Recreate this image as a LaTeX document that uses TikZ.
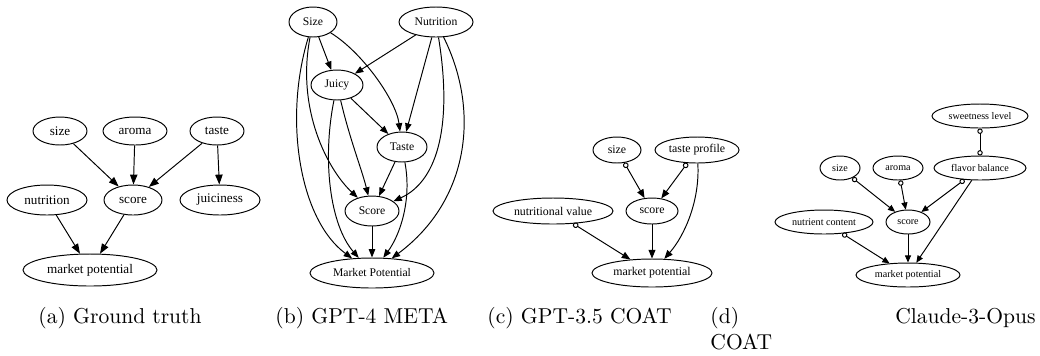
\documentclass[tikz,border=0pt]{standalone}
\usepackage{fontspec}
\newfontfamily\gvfont{Liberation Serif}
\usetikzlibrary{shapes.geometric}
\usetikzlibrary{arrows.meta}

\begin{document}
\begin{tikzpicture}[x=0.464pt,y=-0.464pt,
    gv/.style={ellipse, draw, inner sep=0pt, line width=0.45pt},
    sz/.style 2 args={minimum width=#1*0.928pt, minimum height=#2*0.928pt},
    fa/.style={font=\gvfont\fontsize{6.1}{7}\selectfont},
    fb/.style={font=\gvfont\fontsize{5.4}{6}\selectfont},
    fc/.style={font=\gvfont\fontsize{5.5}{6}\selectfont},
    fd/.style={font=\gvfont\fontsize{4.7}{5}\selectfont},
    ea/.style={line width=0.45pt, -{Triangle[length=4.6pt,width=3.4pt]}},
    eb/.style={line width=0.45pt, -{Triangle[length=3.9pt,width=3pt]}},
    ec/.style={line width=0.45pt, -{Triangle[length=4pt,width=3.2pt]}},
    oc/.style={line width=0.45pt, {Circle[open,length=2.6pt]}-{Triangle[length=4pt,width=3.2pt]}},
    ed/.style={line width=0.45pt, -{Triangle[length=3.3pt,width=2.8pt]}},
    od/.style={line width=0.45pt, {Circle[open,length=2.5pt]}-{Triangle[length=3.3pt,width=2.8pt]}},
    oo/.style={line width=0.45pt, {Circle[open,length=2.5pt]}-{Circle[open,length=2.5pt]}},
    subcap/.style={anchor=base west, inner sep=0pt}]
    \useasboundingbox (0,0) rectangle (1040,355);

    % (a) ground truth
    \node[gv,fa,sz={27}{14}] (aSize) at (60,131) {size};
    \node[gv,fa,sz={32}{14}] (aAroma) at (135,131) {aroma};
    \node[gv,fa,sz={27}{14}] (aTaste) at (217,131) {taste};
    \node[gv,fa,sz={40}{15}] (aNutr) at (47,200) {nutrition};
    \node[gv,fa,sz={29}{15}] (aScore) at (133,200) {score};
    \node[gv,fa,sz={40}{15}] (aJuice) at (220,200) {juiciness};
    \node[gv,fa,sz={67}{16}] (aMarket) at (90,270) {market potential};
    \foreach \s in {aSize,aAroma,aTaste}
        \draw[ea] (\s) -- (aScore);
    \draw[ea] (aTaste) -- (aJuice);
    \draw[ea] (aNutr) -- (aMarket);
    \draw[ea] (aScore) -- (aMarket);

    % (b) GPT-4 META
    \node[gv,fb,sz={24}{15}] (bSize) at (313,22) {Size};
    \node[gv,fb,sz={37}{15}] (bNutr) at (436,22) {Nutrition};
    \node[gv,fb,sz={26}{15}] (bJuicy) at (337,85) {Juicy};
    \node[gv,fb,sz={25}{15}] (bTaste) at (402,147) {Taste};
    \node[gv,fb,sz={27}{15}] (bScore) at (372,211) {Score};
    \node[gv,fb,sz={62}{15}] (bMarket) at (372,273) {Market Potential};
    \draw[eb] (bSize) -- (bJuicy);
    \draw[eb] (bNutr) -- (bJuicy);
    \draw[eb] (bSize) .. controls (362,52) and (396,100) .. (bTaste);
    \draw[eb] (bSize) .. controls (296,110) and (328,170) .. (bScore);
    \draw[eb] (bSize) .. controls (283,120) and (300,220) .. (bMarket);
    \draw[eb] (bJuicy) -- (bTaste);
    \draw[eb] (bJuicy) .. controls (350,140) and (362,170) .. (bScore);
    \draw[eb] (bJuicy) .. controls (322,160) and (330,225) .. (bMarket);
    \draw[eb] (bNutr) -- (bTaste);
    \draw[eb] (bNutr) .. controls (452,120) and (440,180) .. (bScore);
    \draw[eb] (bNutr) .. controls (480,110) and (470,200) .. (bMarket);
    \draw[eb] (bTaste) -- (bScore);
    \draw[eb] (bTaste) .. controls (412,200) and (400,235) .. (bMarket);
    \draw[eb] (bScore) -- (bMarket);

    % (c) GPT-3.5 COAT
    \node[gv,fc,sz={24}{13}] (cSize) at (617,150) {size};
    \node[gv,fc,sz={42}{13}] (cTaste) at (697,150) {taste profile};
    \node[gv,fc,sz={60}{13}] (cNutr) at (553,211) {nutritional value};
    \node[gv,fc,sz={26}{13}] (cScore) at (652,211) {score};
    \node[gv,fc,sz={60}{14}] (cMarket) at (652,273) {market potential};
    \draw[oc] (cSize) -- (cScore);
    \draw[oc] (cTaste) -- (cScore);
    \draw[ec] (cTaste) .. controls (700,200) and (685,235) .. (cMarket);
    \draw[oc] (cNutr) -- (cMarket);
    \draw[ec] (cScore) -- (cMarket);

    % (d) Claude-3-Opus COAT
    \node[gv,fd,sz={48}{12}] (dSweet) at (980,116) {sweetness level};
    \node[gv,fd,sz={20}{12}] (dSize) at (840,168) {size};
    \node[gv,fd,sz={25}{12}] (dAroma) at (898,168) {aroma};
    \node[gv,fd,sz={46}{12}] (dFlavor) at (980,168) {flavor balance};
    \node[gv,fd,sz={49}{12}] (dNutr) at (824,222) {nutrient content};
    \node[gv,fd,sz={22}{12}] (dScore) at (908,222) {score};
    \node[gv,fd,sz={52}{12}] (dMarket) at (908,275) {market potential};
    \draw[oo] (dSweet) -- (dFlavor);
    \foreach \s in {dSize,dAroma,dFlavor}
        \draw[od] (\s) -- (dScore);
    \draw[ed] (dFlavor) -- (dMarket);
    \draw[od] (dNutr) -- (dMarket);
    \draw[ed] (dScore) -- (dMarket);

    % captions
    \node[subcap] (capA) at (38,323) {(a) Ground truth};
    \node[subcap] (capB) at (275,323) {(b) GPT-4 META};
    \node[subcap] (capC) at (487,323) {(c) GPT-3.5 COAT};
    \node[subcap] (capD) at (710,323) {(d)};
    \node[subcap, anchor=base east] (capD2) at (1036,323) {Claude-3-Opus};
    \node[subcap] (capD3) at (710,349) {COAT};
\end{tikzpicture}
\end{document}
